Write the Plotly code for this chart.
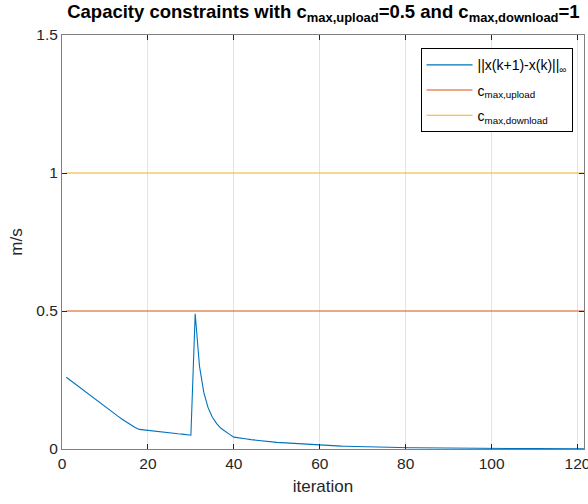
import plotly.graph_objects as go

# Iteration index and the step norm ||x(k+1)-x(k)||_inf per iteration
iterations = list(range(1, 123))
step_norm = [
    0.260, 0.248, 0.236, 0.224, 0.213, 0.201, 0.189, 0.177, 0.165, 0.153,   # 1-10
    0.142, 0.130, 0.119, 0.108, 0.097, 0.087, 0.078, 0.071, 0.069, 0.068,   # 11-20
    0.066, 0.064, 0.062, 0.061, 0.059, 0.057, 0.055, 0.054, 0.052, 0.050,   # 21-30
    0.490, 0.300, 0.205, 0.150, 0.115, 0.092, 0.075, 0.063, 0.053, 0.043,   # 31-40
    0.040, 0.038, 0.036, 0.034, 0.032, 0.030, 0.029, 0.027, 0.026, 0.024,   # 41-50
    0.023, 0.022, 0.020, 0.019, 0.018, 0.017, 0.016, 0.015, 0.014, 0.013,   # 51-60
    0.0125, 0.012, 0.0115, 0.011, 0.0105, 0.010, 0.0095, 0.009, 0.0086, 0.0082,  # 61-70
    0.0078, 0.0074, 0.0070, 0.0067, 0.0064, 0.0061, 0.0058, 0.0055, 0.0052, 0.0050,  # 71-80
    0.0048, 0.0046, 0.0044, 0.0042, 0.0040, 0.0038, 0.0036, 0.0035, 0.0033, 0.0032,  # 81-90
    0.0030, 0.0029, 0.0028, 0.0026, 0.0025, 0.0024, 0.0023, 0.0022, 0.0021, 0.0020,  # 91-100
    0.0019, 0.0018, 0.0018, 0.0017, 0.0016, 0.0016, 0.0015, 0.0014, 0.0014, 0.0013,  # 101-110
    0.0013, 0.0012, 0.0012, 0.0011, 0.0011, 0.0010, 0.0010, 0.0010, 0.0009, 0.0009,  # 111-120
    0.0009, 0.0008,                                                                  # 121-122
]

# Capacity limits (constant over all iterations)
c_max_upload = 0.5
c_max_download = 1.0

x_ticks = [0, 20, 40, 60, 80, 100, 120]
y_ticks = [0, 0.5, 1, 1.5]
y_tick_text = ["0", "0.5", "1", "1.5"]

FONT = "Liberation Sans, Arial, Helvetica, sans-serif"
AXIS_COLOR = "#262626"

fig = go.Figure()
fig.add_trace(go.Scatter(
    x=iterations, y=step_norm, mode="lines",
    line=dict(color="#0072BD", width=1.1),
    name="||x(k+1)-x(k)||<sub>\u221e</sub>", legendgroup="norm",
))
fig.add_trace(go.Scatter(
    x=iterations, y=[c_max_upload] * len(iterations), mode="lines",
    line=dict(color="#D95319", width=1.1),
    name="c<sub>max,upload</sub>", legendgroup="upload",
))
fig.add_trace(go.Scatter(
    x=iterations, y=[c_max_download] * len(iterations), mode="lines",
    line=dict(color="#EDB120", width=1.1),
    name="c<sub>max,download</sub>", legendgroup="download",
))

axis_common = dict(
    showline=True, linecolor="#808080", linewidth=1, mirror="ticks",
    ticks="inside", ticklen=5, tickcolor=AXIS_COLOR, tickwidth=1,
    tickfont=dict(family=FONT, size=15.5, color=AXIS_COLOR),
    ticklabeloverflow="allow", automargin=False,
    zeroline=False,
)

fig.update_layout(
    width=588, height=504,
    margin=dict(l=62, r=4, t=35, b=55, autoexpand=False),
    paper_bgcolor="white", plot_bgcolor="white",
    font=dict(family=FONT, color=AXIS_COLOR),
    title=dict(
        text="<b>Capacity constraints with c<sub>max,upload</sub>=0.5 and "
             "c<sub>max,download</sub>=1</b>",
        x=0.55, xanchor="center", y=0.99, yanchor="top",
        font=dict(family=FONT, size=18.5, color="black"),
    ),
    xaxis=dict(
        range=[0, 121.5], tickvals=x_ticks,
        showgrid=True, gridcolor="#e3e3e3", gridwidth=1,
        title=dict(text="iteration", font=dict(family=FONT, size=17, color=AXIS_COLOR), standoff=9),
        **axis_common,
    ),
    yaxis=dict(
        range=[0, 1.5], tickvals=y_ticks, ticktext=y_tick_text,
        showgrid=False,
        title=dict(text="m/s", font=dict(family=FONT, size=17, color=AXIS_COLOR), standoff=9),
        **axis_common,
    ),
    legend=dict(
        x=0.978, xanchor="right", y=0.968, yanchor="top",
        bgcolor="white", bordercolor="black", borderwidth=1,
        font=dict(family=FONT, size=14, color="black"),
        tracegroupgap=4, itemwidth=46,
    ),
    showlegend=True,
)

fig.write_html("out.html")
